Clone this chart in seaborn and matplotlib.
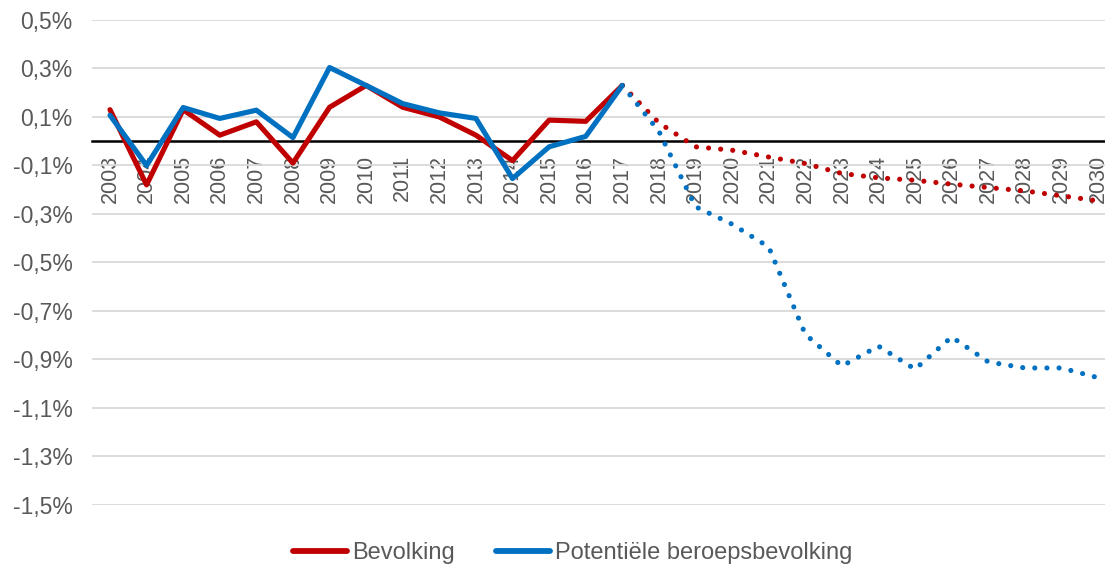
import matplotlib
matplotlib.use("Agg")
import matplotlib.pyplot as plt
from matplotlib.lines import Line2D
import seaborn as sns
import pandas as pd

years = list(range(2003, 2031))
hist_years = years[:15]          # 2003-2017
proj_years = years[14:]          # 2017-2030

bevolking_hist = [0.13, -0.18, 0.13, 0.025, 0.08, -0.09, 0.14, 0.23, 0.14, 0.10, 0.025, -0.08, 0.087, 0.082, 0.23]
beroeps_hist = [0.107, -0.10, 0.139, 0.094, 0.128, 0.015, 0.304, 0.23, 0.155, 0.117, 0.094, -0.154, -0.023, 0.02, 0.23]

bevolking_proj = [0.23, 0.076, -0.023, -0.037, -0.065, -0.092, -0.133, -0.151, -0.161, -0.177, -0.191, -0.205, -0.225, -0.246]
beroeps_proj = [0.23, 0.041, -0.27, -0.342, -0.436, -0.796, -0.927, -0.845, -0.94, -0.807, -0.91, -0.935, -0.935, -0.975]

series_names = ["Bevolking", "Potentiële beroepsbevolking"]
yticks = [0.5, 0.3, 0.1, -0.1, -0.3, -0.5, -0.7, -0.9, -1.1, -1.3, -1.5]

RED = "#C00000"
BLUE = "#0070C0"
GREY = "#595959"

sns.set_theme(style="white")
plt.rcParams["font.family"] = ["Liberation Sans", "DejaVu Sans"]

fig = plt.figure(figsize=(11.05, 5.69), dpi=100)
ax = fig.add_axes([0.0833, 0.1125, 1 - 0.0833, 0.9649 - 0.1125])

pos = {y: i for i, y in enumerate(years)}
df_hist = pd.DataFrame({
    "x": [pos[y] for y in hist_years] * 2,
    "v": bevolking_hist + beroeps_hist,
    "s": [series_names[0]] * len(hist_years) + [series_names[1]] * len(hist_years),
})
df_proj = pd.DataFrame({
    "x": [pos[y] for y in proj_years] * 2,
    "v": bevolking_proj + beroeps_proj,
    "s": [series_names[0]] * len(proj_years) + [series_names[1]] * len(proj_years),
})
palette = {series_names[0]: RED, series_names[1]: BLUE}

sns.lineplot(data=df_hist, x="x", y="v", hue="s", palette=palette, ax=ax,
             linewidth=3.7, zorder=4, legend=False, solid_capstyle="round")
n_before = len(ax.lines)
sns.lineplot(data=df_proj, x="x", y="v", hue="s", palette=palette, ax=ax,
             linewidth=3.7, zorder=4, legend=False)
for ln in ax.lines[n_before:]:
    ln.set_linestyle((0, (0.01, 2.35)))
    ln.set_dash_capstyle("round")

ax.set_ylim(-1.5, 0.5)
ax.set_xlim(-0.49, 27.19)
ax.set_yticks(yticks)
ax.set_yticklabels([f"{t:.1f}%".replace(".", ",") for t in yticks])
ax.yaxis.grid(True, color="#D9D9D9", linewidth=1.3)
ax.set_axisbelow(True)
ax.set_xticks(range(len(years)))
ax.set_xticklabels([str(y) for y in years])
ax.tick_params(axis="x", length=0, pad=10, labelsize=15.5, labelcolor=GREY,
               labelrotation=90)
for lab in ax.get_xticklabels():
    lab.set_va("top")
    lab.set_ha("center")
ax.tick_params(axis="y", length=0, pad=14, labelsize=16.5, labelcolor=GREY)
for s in ["top", "right", "left"]:
    ax.spines[s].set_visible(False)
ax.spines["bottom"].set_position(("data", 0))
ax.spines["bottom"].set_color("black")
ax.spines["bottom"].set_linewidth(1.8)
ax.spines["bottom"].set_zorder(3)
ax.set_xlabel("")
ax.set_ylabel("")

handles = [Line2D([], [], color=RED, linewidth=4.2, solid_capstyle="round"),
           Line2D([], [], color=BLUE, linewidth=4.2, solid_capstyle="round")]
leg = fig.legend(handles, series_names, loc="center", bbox_to_anchor=(0.518, 0.028),
                 ncol=2, frameon=False, fontsize=17, labelcolor=GREY,
                 handlelength=2.3, handletextpad=0.2, columnspacing=1.75)

fig.savefig("out.png", dpi=100)
